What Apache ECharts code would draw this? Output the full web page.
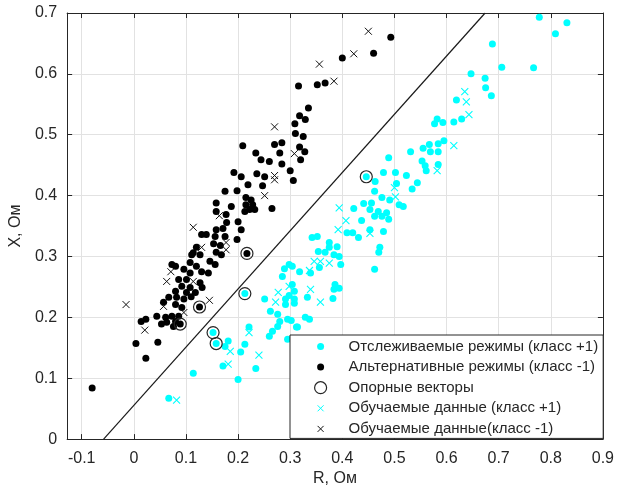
<!DOCTYPE html>
<html>
<head>
<meta charset="utf-8">
<script src="https://cdn.jsdelivr.net/npm/echarts@6/dist/echarts.min.js"></script>
<style>
html,body{margin:0;padding:0;background:#fff;}
#chart{width:617px;height:492px;}
</style>
</head>
<body>
<div id="chart"></div>
<script>
// ---- data (R, X in Ohm) ----
const trackedPts = [
[0.778,0.693],[0.831,0.684],[0.809,0.666],[0.688,0.649],[0.706,0.611],[0.767,0.61],[0.647,0.6],[0.674,0.593],[0.675,0.577],[0.686,0.564],
[0.619,0.557],[0.629,0.526],[0.614,0.521],[0.593,0.52],[0.582,0.526],[0.577,0.518],[0.595,0.49],[0.584,0.485],[0.567,0.484],[0.555,0.478],
[0.569,0.472],[0.584,0.472],[0.531,0.472],[0.553,0.457],[0.559,0.449],[0.584,0.451],[0.561,0.441],[0.489,0.462],[0.479,0.438],[0.502,0.438],
[0.523,0.433],[0.544,0.421],[0.534,0.411],[0.504,0.42],[0.463,0.423],[0.446,0.431],[0.476,0.397],[0.491,0.393],[0.509,0.385],[0.517,0.382],
[0.422,0.379],[0.441,0.387],[0.456,0.388],[0.453,0.377],[0.469,0.374],[0.485,0.372],[0.489,0.361],[0.437,0.359],[0.462,0.407],[0.409,0.339],
[0.42,0.339],[0.431,0.331],[0.453,0.344],[0.479,0.341],[0.342,0.331],[0.352,0.333],[0.375,0.323],[0.375,0.315],[0.39,0.316],[0.472,0.315],
[0.462,0.366],[0.476,0.366],[0.354,0.308],[0.367,0.307],[0.384,0.303],[0.394,0.3],[0.356,0.282],[0.397,0.287],[0.462,0.279],[0.47,0.307],
[0.298,0.287],[0.304,0.284],[0.289,0.28],[0.318,0.275],[0.339,0.273],[0.285,0.267],[0.386,0.254],[0.384,0.246],[0.394,0.248],[0.304,0.254],
[0.308,0.243],[0.298,0.236],[0.291,0.23],[0.308,0.23],[0.291,0.221],[0.308,0.223],[0.333,0.233],[0.382,0.231],[0.251,0.23],[0.262,0.21],
[0.276,0.205],[0.28,0.193],[0.295,0.197],[0.302,0.195],[0.329,0.2],[0.337,0.197],[0.314,0.184],[0.276,0.185],[0.266,0.177],[0.26,0.169],
[0.221,0.184],[0.295,0.164],[0.312,0.184],[0.181,0.161],[0.175,0.152],[0.205,0.143],[0.213,0.156],[0.234,0.116],[0.171,0.12],[0.2,0.098],
[0.114,0.108],[0.067,0.067],[0.152,0.175],[0.158,0.157],[0.213,0.239]
];
const alternativePts = [
[0.493,0.66],[0.40,0.626],[0.46,0.634],[0.316,0.58],[0.352,0.582],[0.367,0.585],[0.335,0.544],[0.318,0.531],[0.329,0.525],[0.309,0.518],
[0.31,0.502],[0.325,0.497],[0.284,0.487],[0.318,0.48],[0.27,0.484],[0.209,0.482],[0.28,0.47],[0.328,0.472],[0.32,0.459],[0.234,0.47],
[0.244,0.459],[0.26,0.456],[0.284,0.452],[0.30,0.441],[0.306,0.425],[0.236,0.436],[0.251,0.431],[0.192,0.438],[0.206,0.431],[0.219,0.418],
[0.247,0.416],[0.175,0.407],[0.198,0.408],[0.215,0.397],[0.225,0.393],[0.215,0.385],[0.228,0.385],[0.222,0.377],[0.232,0.377],[0.213,0.374],
[0.265,0.379],[0.158,0.388],[0.187,0.382],[0.158,0.374],[0.177,0.369],[0.178,0.356],[0.2,0.357],[0.206,0.344],[0.171,0.346],[0.158,0.344],
[0.13,0.336],[0.139,0.336],[0.156,0.333],[0.175,0.333],[0.198,0.328],[0.153,0.321],[0.166,0.318],[0.12,0.315],[0.158,0.307],[0.168,0.303],
[0.111,0.303],[0.114,0.306],[0.127,0.303],[0.146,0.292],[0.156,0.287],[0.108,0.29],[0.12,0.284],[0.073,0.287],[0.08,0.284],[0.096,0.279],
[0.13,0.275],[0.108,0.273],[0.143,0.273],[0.086,0.262],[0.101,0.262],[0.127,0.257],[0.092,0.251],[0.108,0.249],[0.131,0.249],[0.08,0.243],
[0.101,0.241],[0.118,0.241],[0.067,0.233],[0.082,0.233],[0.096,0.23],[0.11,0.234],[0.057,0.225],[0.08,0.221],[0.092,0.216],[0.044,0.202],
[0.061,0.2],[0.073,0.202],[0.086,0.202],[0.014,0.193],[0.023,0.197],[0.053,0.189],[0.063,0.192],[0.076,0.185],[0.08,0.193],[0.004,0.157],
[0.046,0.159],[0.023,0.133],[-0.08,0.084],[0.217,0.305],[0.126,0.217],[0.089,0.189]
];
const supportPts = [
[0.446,0.431],[0.213,0.239],[0.152,0.175],[0.158,0.157],[0.217,0.305],[0.126,0.217],[0.089,0.189]
];
const trainPosPts = [
[0.635,0.571],[0.638,0.554],[0.643,0.533],[0.614,0.482],[0.582,0.441],[0.5,0.413],[0.502,0.398],[0.394,0.38],[0.407,0.359],[0.392,0.344],
[0.453,0.338],[0.346,0.292],[0.358,0.292],[0.375,0.289],[0.337,0.277],[0.339,0.246],[0.298,0.251],[0.277,0.241],[0.358,0.225],[0.272,0.225],
[0.221,0.175],[0.185,0.144],[0.24,0.138],[0.181,0.123],[0.082,0.064]
];
const trainNegPts = [
[0.45,0.67],[0.356,0.616],[0.422,0.633],[0.384,0.588],[0.27,0.513],[0.308,0.469],[0.27,0.433],[0.27,0.426],[0.251,0.4],[0.164,0.367],
[0.114,0.348],[0.177,0.323],[0.13,0.315],[0.177,0.311],[0.071,0.275],[0.063,0.259],[0.114,0.259],[-0.015,0.221],[0.057,0.218],[0.145,0.228],
[0.096,0.208],[0.021,0.179]
];
const boundaryR = [-0.058, 0.674];
const boundaryX = [0, 0.7];

const seriesNames = [
  'Отслеживаемые режимы (класс +1)',
  'Альтернативные режимы (класс -1)',
  'Опорные векторы',
  'Обучаемые данные (класс +1)',
  'Обучаемые данные(класс -1)'
];
const xAxisName = 'R, Ом';
const yAxisName = 'X, Ом';
const xMin = -0.128, xMax = 0.9;
const yMin = 0, yMax = 0.7;

// ---- styles ----
const CYAN = '#00ffff';
const AX = '#262626';
const GRIDC = '#e2e2e2';
const FONT = '"Liberation Sans", Arial, sans-serif';
const crossPath = 'path://M0,0L10,10M10,0L0,10';
const dotIcon = 'path://M0,0M12,12M2.5,6A3.5,3.5,0,1,0,9.5,6A3.5,3.5,0,1,0,2.5,6Z';
const crossIcon = 'path://M0,0M12,12M3,3L9,9M9,3L3,9';

function tickLabel(v) {
  const t = v * 10;
  if (Math.abs(Math.round(t) - t) > 1e-6) return '';
  return String(Math.round(t) / 10);
}

const chart = echarts.init(document.getElementById('chart'), null, {renderer: 'canvas'});
chart.setOption({
  animation: false,
  backgroundColor: '#fff',
  grid: {left: 62, right: 14, top: 13, bottom: 52, containLabel: false},
  xAxis: [{
    type: 'value', min: xMin, max: xMax, splitNumber: 10,
    name: xAxisName, nameLocation: 'middle', nameGap: 29,
    nameTextStyle: {color: AX, fontSize: 16, fontFamily: FONT},
    axisLine: {show: true, onZero: false, lineStyle: {color: AX, width: 1}},
    axisTick: {show: true, inside: true, length: 5, lineStyle: {color: AX}},
    axisLabel: {color: AX, fontSize: 16, fontFamily: FONT, margin: 11, formatter: tickLabel, showMinLabel: true},
    splitLine: {show: true, lineStyle: {color: GRIDC, width: 1}}
  }, {
    type: 'value', position: 'top', min: xMin, max: xMax, splitNumber: 10,
    axisLine: {show: true, onZero: false, lineStyle: {color: AX, width: 1}},
    axisTick: {show: true, inside: true, length: 5, lineStyle: {color: AX}},
    axisLabel: {show: false}, splitLine: {show: false}
  }],
  yAxis: [{
    type: 'value', min: yMin, max: yMax, interval: 0.1,
    name: yAxisName, nameLocation: 'middle', nameGap: 38, nameRotate: 90,
    nameTextStyle: {color: AX, fontSize: 16, fontFamily: FONT},
    axisLine: {show: true, onZero: false, lineStyle: {color: AX, width: 1}},
    axisTick: {show: true, inside: true, length: 5, lineStyle: {color: AX}},
    axisLabel: {color: AX, fontSize: 16, fontFamily: FONT, margin: 10, formatter: tickLabel},
    splitLine: {show: true, lineStyle: {color: GRIDC, width: 1}}
  }, {
    type: 'value', position: 'right', min: yMin, max: yMax, interval: 0.1,
    axisLine: {show: true, onZero: false, lineStyle: {color: AX, width: 1}},
    axisTick: {show: true, inside: true, length: 5, lineStyle: {color: AX}},
    axisLabel: {show: false}, splitLine: {show: false}
  }],
  legend: {
    left: 290, top: 335, orient: 'vertical',
    padding: [4, 5, 2, 24],
    itemWidth: 12, itemHeight: 12, itemGap: 5.6,
    backgroundColor: '#fff', borderColor: AX, borderWidth: 1, borderRadius: 0,
    selectedMode: false,
    textStyle: {color: AX, fontSize: 15, fontFamily: FONT, padding: [0, 0, 0, 17]},
    data: [
      {name: seriesNames[0], icon: dotIcon, itemStyle: {borderWidth: 0}},
      {name: seriesNames[1], icon: dotIcon, itemStyle: {borderWidth: 0}},
      {name: seriesNames[2], icon: 'circle', itemStyle: {borderWidth: 1.2}},
      {name: seriesNames[3], icon: crossIcon, itemStyle: {borderWidth: 1}},
      {name: seriesNames[4], icon: crossIcon, itemStyle: {borderWidth: 1}}
    ]
  },
  series: [
    {
      type: 'line', data: boundaryR.map((r, i) => [r, boundaryX[i]]),
      showSymbol: false, symbol: 'none', silent: true,
      lineStyle: {color: '#1a1a1a', width: 1.2}, z: 1
    },
    {
      name: seriesNames[0], type: 'scatter', data: trackedPts,
      symbol: 'circle', symbolSize: 7, itemStyle: {color: CYAN, opacity: 1}, z: 2
    },
    {
      name: seriesNames[1], type: 'scatter', data: alternativePts,
      symbol: 'circle', symbolSize: 7, itemStyle: {color: '#000', opacity: 1}, z: 2
    },
    {
      name: seriesNames[3], type: 'scatter', data: trainPosPts,
      symbol: crossPath, symbolSize: 7,
      itemStyle: {color: CYAN, borderColor: CYAN, borderWidth: 1.1, opacity: 1}, z: 3
    },
    {
      name: seriesNames[4], type: 'scatter', data: trainNegPts,
      symbol: crossPath, symbolSize: 7,
      itemStyle: {color: '#111', borderColor: '#111', borderWidth: 1, opacity: 1}, z: 3
    },
    {
      name: seriesNames[2], type: 'scatter', data: supportPts,
      symbol: 'circle', symbolSize: 12,
      itemStyle: {color: 'rgba(0,0,0,0)', borderColor: AX, borderWidth: 1.2, opacity: 1}, z: 4
    }
  ]
});
</script>
</body>
</html>
